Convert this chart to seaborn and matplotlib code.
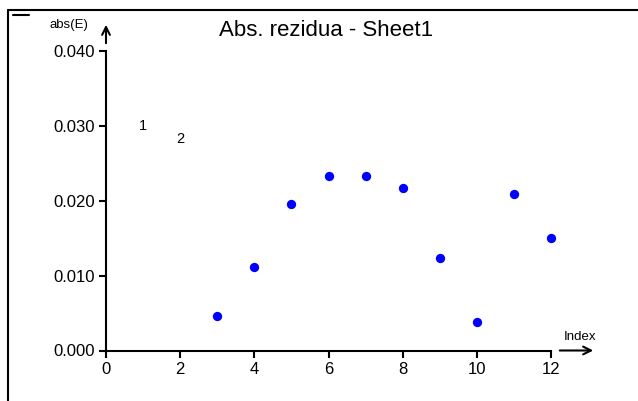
import matplotlib
matplotlib.use("Agg")
import matplotlib.pyplot as plt
import seaborn as sns
import pandas as pd

# data
index = [3, 4, 5, 6, 7, 8, 9, 10, 11, 12]
abs_e = [0.0046, 0.0112, 0.0195, 0.0233, 0.0233, 0.0217, 0.0123, 0.0038, 0.0209, 0.0150]
label_text = ["1", "2"]
label_x = [1, 2]
label_y = [0.0300, 0.0282]
xticks = [0, 2, 4, 6, 8, 10, 12]
yticks = [0.000, 0.010, 0.020, 0.030, 0.040]
title = "Abs. rezidua - Sheet1"

sns.set_style("white")
plt.rcParams['font.family'] = ['Liberation Sans', 'DejaVu Sans']
plt.rcParams['text.color'] = 'black'

W, H = 638, 401
fig = plt.figure(figsize=(W / 100, H / 100), dpi=100)
x0, x1 = 106, 551
y0, y1 = 350.5, 51
ax = fig.add_axes([x0 / W, 1 - y0 / H, (x1 - x0) / W, (y0 - y1) / H])

df = pd.DataFrame({"Index": index, "absE": abs_e})
sns.scatterplot(data=df, x="Index", y="absE", ax=ax, color=(0, 0, 1),
                s=45, edgecolor=(0, 0, 1), linewidth=0, clip_on=False, zorder=5)

for t, xx, yy in zip(label_text, label_x, label_y):
    ax.text(xx, yy, t, fontsize=10.5, ha="center", va="center", color="black")

ax.set_xlim(0, 12)
ax.set_ylim(0, 0.040)
ax.set_xticks(xticks)
ax.set_xticklabels([str(v) for v in xticks])
ax.set_yticks(yticks)
ax.set_yticklabels([f"{v:.3f}" for v in yticks])
ax.set_xlabel("")
ax.set_ylabel("")
for s in ["top", "right"]:
    ax.spines[s].set_visible(False)
for s in ["left", "bottom"]:
    ax.spines[s].set_linewidth(1.5)
    ax.spines[s].set_color("black")
ax.tick_params(axis="both", which="both", direction="out", length=5, width=1.5,
               labelsize=12, colors="black", pad=3, left=True, bottom=True)

# axis arrows
ax.annotate("", xy=(596 / W, 1 - 350.5 / H), xytext=(557 / W, 1 - 350.5 / H),
            xycoords="figure fraction",
            arrowprops=dict(arrowstyle="->", lw=1.5, color="black", mutation_scale=14))
ax.annotate("", xy=(x0 / W, 1 - 22 / H), xytext=(x0 / W, 1 - 46 / H),
            xycoords="figure fraction",
            arrowprops=dict(arrowstyle="->", lw=1.5, color="black", mutation_scale=14))
fig.text(580 / W, 1 - 337 / H, "Index", fontsize=9.5, ha="center", va="center", color="black")
fig.text(69 / W, 1 - 25 / H, "abs(E)", fontsize=9.5, ha="center", va="center", color="black")

fig.text(326 / W, 1 - 30 / H, title, fontsize=16, ha="center", va="center", color="black")

# frame lines
fig.add_artist(plt.Line2D([8 / W, 1], [1 - 10 / H, 1 - 10 / H], lw=1.5, color="black"))
fig.add_artist(plt.Line2D([8 / W, 8 / W], [1 - 10 / H, 0], lw=1.5, color="black"))
fig.add_artist(plt.Line2D([13 / W, 29 / W], [1 - 15 / H, 1 - 15 / H], lw=1.5, color="black"))

fig.savefig("out.png", dpi=100)
